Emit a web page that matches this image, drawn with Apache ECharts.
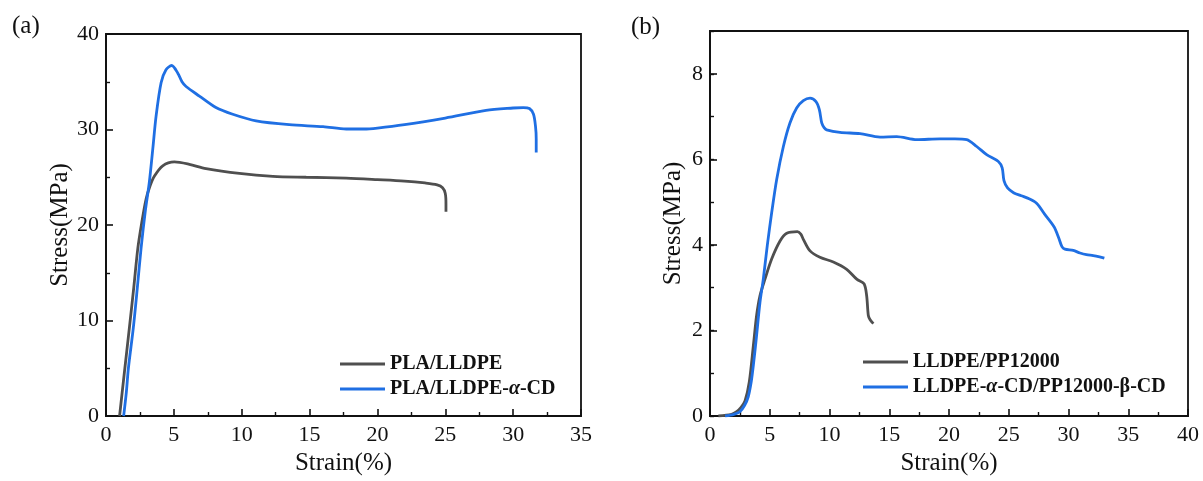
<!DOCTYPE html>
<html>
<head>
<meta charset="utf-8">
<script src="https://cdn.jsdelivr.net/npm/echarts@6/dist/echarts.min.js"></script>
<style>
  html, body { margin: 0; padding: 0; background: #fff; }
  #chart { width: 1203px; height: 481px; }
</style>
</head>
<body>
<div id="chart"></div>
<script>
// Panel (a): PLA/LLDPE blends
const strainPlaLldpe = [1.0, 1.35, 1.72, 2.05, 2.34, 2.63, 2.95, 3.25, 3.56, 4.18, 5.04, 6.14, 7.37, 9.83, 12.3, 14.75, 17.7, 20.0, 22.0, 23.5, 24.4, 24.8, 25.0, 25.05, 25.05];
const stressPlaLldpe = [0, 4.5, 9.2, 13.5, 17.5, 20.2, 22.7, 24.1, 25.1, 26.2, 26.6, 26.35, 25.9, 25.4, 25.1, 25.0, 24.9, 24.75, 24.6, 24.4, 24.2, 23.9, 23.3, 22.2, 21.4];

const strainPlaLldpeCd = [1.3, 1.5, 1.65, 2.01, 2.3, 2.58, 2.9, 3.19, 3.45, 3.69, 4.06, 4.42, 4.84, 5.29, 5.6, 5.9, 6.88, 8.1, 9.34, 11.06, 13.5, 16.0, 17.7, 19.0, 20.0, 22.0, 25.0, 28.0, 30.0, 30.75, 31.2, 31.5, 31.65, 31.7, 31.7];
const stressPlaLldpeCd = [0, 2.5, 5.0, 9.2, 13.3, 17.5, 21.5, 24.45, 28.0, 31.4, 34.9, 36.25, 36.7, 35.9, 35.0, 34.5, 33.5, 32.3, 31.6, 30.9, 30.5, 30.3, 30.05, 30.05, 30.15, 30.5, 31.2, 32.0, 32.25, 32.3, 32.2, 31.6, 30.3, 29.0, 27.6];

// Panel (b): LLDPE/PP12000 blends
const strainLldpePp = [0.7, 1.8, 2.23, 2.6, 2.93, 3.29, 3.63, 3.9, 4.18, 4.6, 5.16, 5.86, 6.42, 7.31, 7.6, 7.81, 8.37, 9.2, 10.32, 11.44, 12.28, 12.89, 13.11, 13.25, 13.4, 13.67];
const stressLldpePp = [0, 0.04, 0.1, 0.2, 0.35, 0.8, 1.65, 2.35, 2.81, 3.2, 3.67, 4.09, 4.27, 4.31, 4.25, 4.13, 3.86, 3.71, 3.6, 3.43, 3.2, 3.09, 2.81, 2.35, 2.25, 2.16];

const strainLldpePpCd = [1.26, 2.0, 2.5, 2.9, 3.2, 3.45, 3.63, 3.85, 4.18, 4.46, 4.8, 5.16, 5.58, 6.14, 6.69, 7.25, 7.81, 8.37, 8.87, 9.15, 9.35, 9.55, 9.76, 10.88, 12.55, 14.23, 15.62, 17.3, 19.25, 20.5, 21.48, 22.32, 23.15, 24.13, 24.45, 24.6, 24.9, 25.4, 26.05, 26.7, 27.35, 28.0, 28.8, 29.2, 29.45, 29.7, 30.4, 30.96, 31.5, 32.07, 32.6, 33.0];
const stressLldpePpCd = [0, 0.04, 0.1, 0.25, 0.45, 0.8, 1.19, 1.75, 2.65, 3.2, 4.0, 4.75, 5.53, 6.3, 6.85, 7.2, 7.37, 7.43, 7.35, 7.16, 6.85, 6.74, 6.69, 6.63, 6.6, 6.52, 6.53, 6.46, 6.48, 6.48, 6.46, 6.3, 6.11, 5.95, 5.8, 5.5, 5.33, 5.22, 5.15, 5.08, 4.97, 4.72, 4.42, 4.15, 3.96, 3.9, 3.87, 3.81, 3.77, 3.75, 3.72, 3.69];

// Axis tick settings
const xTicksA = { min: 0, max: 35, interval: 5 };
const yTicksA = { min: 0, max: 40, interval: 10 };
const xTicksB = { min: 0, max: 40, interval: 5 };
const yTicksB = { min: 0, max: 9, interval: 2 };

const zip = (xs, ys) => xs.map((x, i) => [x, ys[i]]);

const FONT = 'Liberation Serif';
const GRAY = '#4f4f4f';
const BLUE = '#1f6fe3';

function valueAxis(gridIndex, ticks, name, nameGap, extra) {
  return Object.assign({
    type: 'value',
    gridIndex,
    min: ticks.min,
    max: ticks.max,
    interval: ticks.interval,
    name,
    nameLocation: 'middle',
    nameGap,
    nameTextStyle: { fontFamily: FONT, fontSize: 25, color: '#111' },
    axisLine: { show: true, onZero: false, lineStyle: { color: '#111', width: 1.8 } },
    axisTick: { show: true, inside: true, length: 7, lineStyle: { color: '#111', width: 1.6 } },
    minorTick: { show: true, splitNumber: 2, length: 4, lineStyle: { color: '#111', width: 1.4 } },
    axisLabel: { fontFamily: FONT, fontSize: 22, color: '#111' },
    splitLine: { show: false },
    minorSplitLine: { show: false }
  }, extra || {});
}

function legendBlock(left, top, names) {
  return {
    orient: 'vertical', left, top,
    icon: 'rect', itemWidth: 45, itemHeight: 3, itemGap: 5,
    data: names,
    formatter: n => n.replace('α', '{i|α}'),
    textStyle: {
      fontFamily: FONT, fontSize: 20, fontWeight: 'bold', color: '#111',
      rich: { i: { fontFamily: FONT, fontSize: 20, fontWeight: 'bold', fontStyle: 'italic', color: '#111' } }
    }
  };
}

const chart = echarts.init(document.getElementById('chart'), null, { renderer: 'canvas' });

chart.setOption({
  backgroundColor: '#fff',
  animation: false,
  title: [
    { text: '(a)', left: 7, top: 9, textStyle: { fontFamily: FONT, fontSize: 25, fontWeight: 'normal', color: '#111' } },
    { text: '(b)', left: 626, top: 10, textStyle: { fontFamily: FONT, fontSize: 25, fontWeight: 'normal', color: '#111' } }
  ],
  grid: [
    { left: 106, right: 622, top: 34, bottom: 63, show: true, borderColor: '#111', borderWidth: 1.8, backgroundColor: 'transparent' },
    { left: 710, right: 15, top: 31, bottom: 63, show: true, borderColor: '#111', borderWidth: 1.8, backgroundColor: 'transparent' }
  ],
  legend: [
    legendBlock(335, 349, ['PLA/LLDPE', 'PLA/LLDPE-α-CD']),
    legendBlock(858, 347, ['LLDPE/PP12000', 'LLDPE-α-CD/PP12000-β-CD'])
  ],
  xAxis: [
    valueAxis(0, xTicksA, 'Strain(%)', 35, { axisLabel: { fontFamily: FONT, fontSize: 22, color: '#111', margin: 8 } }),
    valueAxis(1, xTicksB, 'Strain(%)', 35, { axisLabel: { fontFamily: FONT, fontSize: 22, color: '#111', margin: 8 } })
  ],
  yAxis: [
    valueAxis(0, yTicksA, 'Stress(MPa)', 33, { axisLabel: { fontFamily: FONT, fontSize: 22, color: '#111', margin: 7 } }),
    valueAxis(1, yTicksB, 'Stress(MPa)', 24, {
      minorTick: { show: false },
      axisLabel: { fontFamily: FONT, fontSize: 22, color: '#111', margin: 7, showMaxLabel: false }
    }),
    // unit-step minor ticks for panel (b)
    valueAxis(1, { min: 0, max: 9, interval: 1 }, '', 0, {
      position: 'left',
      axisLine: { show: false },
      axisLabel: { show: false },
      axisTick: { show: true, inside: true, length: 4, lineStyle: { color: '#111', width: 1.4 } },
      minorTick: { show: false }
    })
  ],
  series: [
    { name: 'PLA/LLDPE', type: 'line', xAxisIndex: 0, yAxisIndex: 0, data: zip(strainPlaLldpe, stressPlaLldpe),
      showSymbol: false, symbol: 'none', smooth: 0.3, lineStyle: { color: GRAY, width: 2.8 }, itemStyle: { color: GRAY } },
    { name: 'PLA/LLDPE-α-CD', type: 'line', xAxisIndex: 0, yAxisIndex: 0, data: zip(strainPlaLldpeCd, stressPlaLldpeCd),
      showSymbol: false, symbol: 'none', smooth: 0.3, lineStyle: { color: BLUE, width: 2.8 }, itemStyle: { color: BLUE } },
    { name: 'LLDPE/PP12000', type: 'line', xAxisIndex: 1, yAxisIndex: 1, data: zip(strainLldpePp, stressLldpePp),
      showSymbol: false, symbol: 'none', smooth: 0.3, lineStyle: { color: GRAY, width: 2.8 }, itemStyle: { color: GRAY } },
    { name: 'LLDPE-α-CD/PP12000-β-CD', type: 'line', xAxisIndex: 1, yAxisIndex: 1, data: zip(strainLldpePpCd, stressLldpePpCd),
      showSymbol: false, symbol: 'none', smooth: 0.3, lineStyle: { color: BLUE, width: 2.8 }, itemStyle: { color: BLUE } }
  ]
});
</script>
</body>
</html>
